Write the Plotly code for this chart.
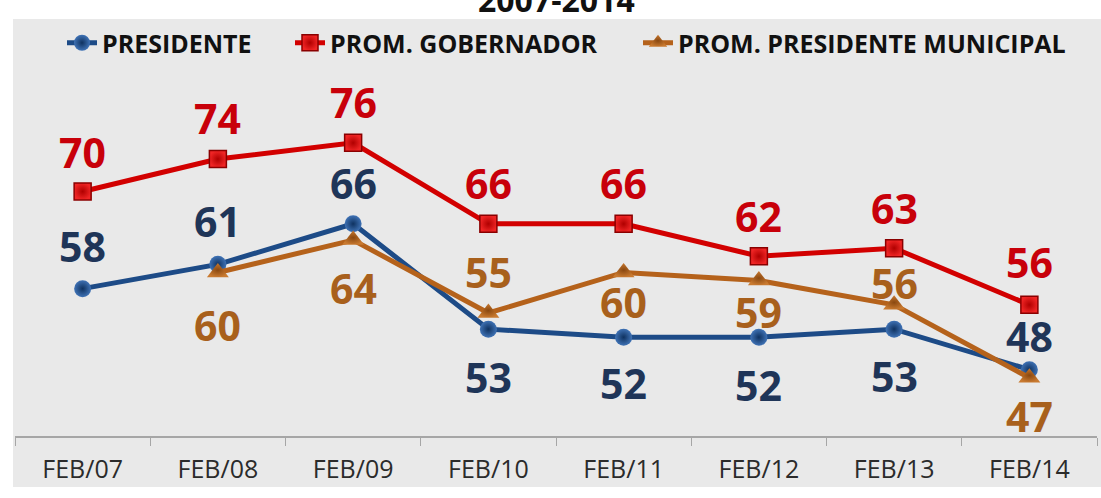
import plotly.graph_objects as go

# Survey periods and approval values
periods = ["FEB/07", "FEB/08", "FEB/09", "FEB/10", "FEB/11", "FEB/12", "FEB/13", "FEB/14"]
presidente = [58, 61, 66, 53, 52, 52, 53, 48]
gobernador = [70, 74, 76, 66, 66, 62, 63, 56]
municipal_periods = ["FEB/08", "FEB/09", "FEB/10", "FEB/11", "FEB/12", "FEB/13", "FEB/14"]
municipal = [60, 64, 55, 60, 59, 56, 47]

names = ["PRESIDENTE", "PROM. GOBERNADOR", "PROM. PRESIDENTE MUNICIPAL"]
title_text = "2007-2014"

# Label vertical offsets in pixels (positive = below the point)
pres_label_off = [-43, -43, -41, 48, 46, 48, 47, -34]
gob_label_off = [-39, -41, -41, -41, -41, -40, -40, -43]
mun_label_off = [53, 48, -41, 30, 31, -22, 38]

LINE_BLUE = "#1d4b87"
LINE_RED = "#d20000"
LINE_ORANGE = "#b5621b"
TXT_BLUE = "#1f3558"
TXT_RED = "#c8000a"
TXT_ORANGE = "#a8601c"
FONT = "Open Sans"

fig = go.Figure()

fig.add_trace(go.Scatter(
    x=periods, y=presidente, name=names[0], mode="lines+markers",
    line=dict(color=LINE_BLUE, width=5),
    marker=dict(symbol="circle", size=17, color="#3f72b5",
                gradient=dict(type="radial", color="#0f3260"),
                line=dict(width=0)),
    legend="legend", showlegend=True,
))
fig.add_trace(go.Scatter(
    x=periods, y=gobernador, name=names[1], mode="lines+markers",
    line=dict(color=LINE_RED, width=5),
    marker=dict(symbol="square", size=17, color="#f02525",
                gradient=dict(type="radial", color="#b00000"),
                line=dict(width=1.5, color="#8a0000")),
    legend="legend2", showlegend=True,
))
fig.add_trace(go.Scatter(
    x=municipal_periods, y=municipal, name=names[2], mode="lines+markers",
    line=dict(color=LINE_ORANGE, width=5),
    marker=dict(symbol="triangle-up", size=19, color="#c97a30",
                gradient=dict(type="radial", color="#8a4810"),
                line=dict(width=0)),
    legend="legend3", showlegend=True,
))

annotations = []
for xs, ys, offs, col in [
    (periods, gobernador, gob_label_off, TXT_RED),
    (periods, presidente, pres_label_off, TXT_BLUE),
    (municipal_periods, municipal, mun_label_off, TXT_ORANGE),
]:
    for xv, yv, off in zip(xs, ys, offs):
        annotations.append(dict(
            x=xv, y=yv, xref="x", yref="y", text=str(yv), showarrow=False,
            yshift=-off, font=dict(family=FONT, size=41, color=col, weight="bold"),
        ))

# Title, sitting partly above the top edge of the page
annotations.append(dict(
    x=(556 - 15) / 1082, y=1.16, xref="paper", yref="paper", text=title_text,
    showarrow=False, xanchor="center", yanchor="middle",
    font=dict(family=FONT, size=32, color="#111111", weight="bold"),
))

# Grey panel behind the chart, legend and axis labels
shapes = [dict(
    type="rect", xref="paper", yref="paper", layer="below",
    x0=(13 - 15) / 1082, x1=(1101 - 15) / 1082,
    y0=(436 - 487) / 376, y1=(436 - 19) / 376,
    fillcolor="#e9e9e9", line=dict(width=0),
)]

legend_font = dict(family=FONT, size=25, color="#111111", weight="bold")
legend_common = dict(orientation="h", yanchor="middle", xanchor="left",
                     y=(436 - 43) / 376, bgcolor="rgba(0,0,0,0)",
                     font=legend_font, borderwidth=0, itemwidth=30)

fig.update_layout(
    width=1101, height=498,
    margin=dict(l=15, r=4, t=60, b=62),
    paper_bgcolor="white", plot_bgcolor="rgba(0,0,0,0)",
    annotations=annotations, shapes=shapes,
    legend=dict(x=(62 - 15) / 1082, **legend_common),
    legend2=dict(x=(290 - 15) / 1082, **legend_common),
    legend3=dict(x=(638 - 15) / 1082, **legend_common),
    xaxis=dict(
        categoryorder="array", categoryarray=periods,
        range=[-0.5, 7.5], showgrid=False, zeroline=False,
        showline=True, linecolor="#a6a6a6", linewidth=1.5,
        ticks="outside", tickson="boundaries", ticklen=8, tickcolor="#a6a6a6",
        tickwidth=1, ticklabelstandoff=10,
        tickfont=dict(family=FONT, size=25, color="#2b2b2b"),
        fixedrange=True,
    ),
    yaxis=dict(range=[39.81, 86.23], visible=False, showgrid=False, fixedrange=True),
    showlegend=True,
)

fig.write_html("out.html")
